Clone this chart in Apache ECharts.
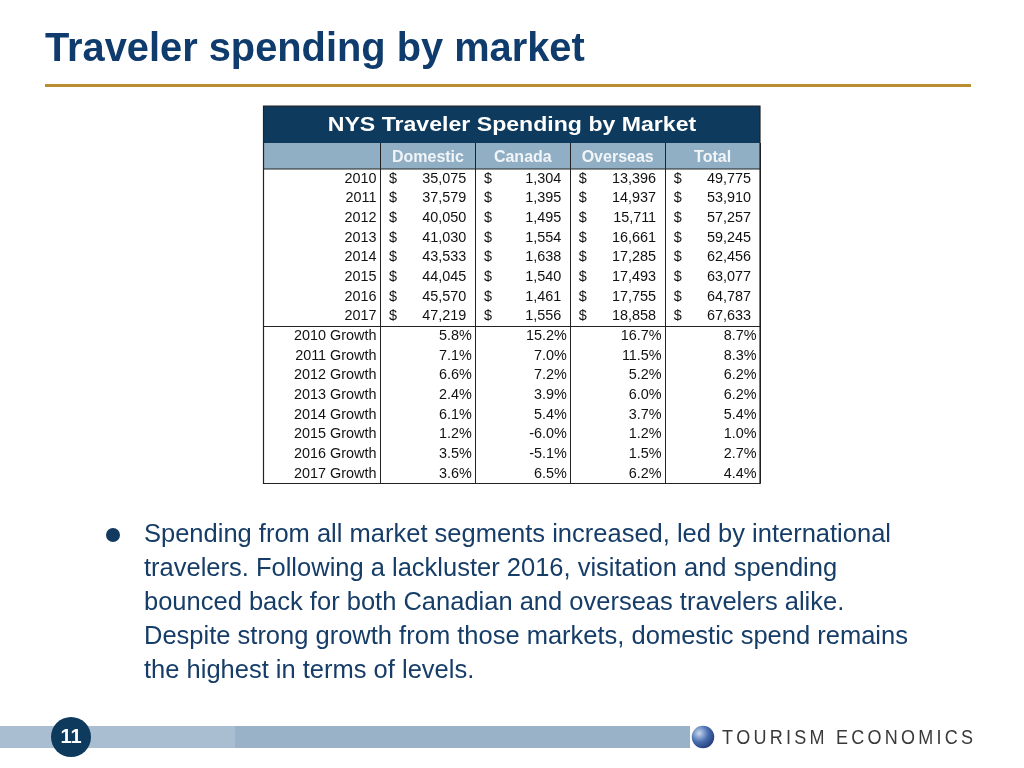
<!DOCTYPE html>
<html>
<head>
<meta charset="utf-8">
<title>Traveler spending by market</title>
<script src="https://cdn.jsdelivr.net/npm/echarts@6/dist/echarts.min.js"></script>
<style>
  html, body { margin: 0; padding: 0; background: #fff; }
  #chart { width: 1024px; height: 768px; }
</style>
</head>
<body>
<div id="chart"></div>
<script>
// table data
const columns = ['Domestic', 'Canada', 'Overseas', 'Total']
const years = ['2010', '2011', '2012', '2013', '2014', '2015', '2016', '2017']
const growthLabels = years.map((y) => y + ' Growth')
const rowLabels = years.concat(growthLabels)

const domestic = [35075, 37579, 40050, 41030, 43533, 44045, 45570, 47219]
const canada = [1304, 1395, 1495, 1554, 1638, 1540, 1461, 1556]
const overseas = [13396, 14937, 15711, 16661, 17285, 17493, 17755, 18858]
const total = [49775, 53910, 57257, 59245, 62456, 63077, 64787, 67633]

const domesticGrowth = [5.8, 7.1, 6.6, 2.4, 6.1, 1.2, 3.5, 3.6]
const canadaGrowth = [15.2, 7.0, 7.2, 3.9, 5.4, -6.0, -5.1, 6.5]
const overseasGrowth = [16.7, 11.5, 5.2, 6.0, 3.7, 1.2, 1.5, 6.2]
const totalGrowth = [8.7, 8.3, 6.2, 6.2, 5.4, 1.0, 2.7, 4.4]

const bulletLines = [
  'Spending from all market segments increased, led by international',
  'travelers. Following a lackluster 2016, visitation and spending',
  'bounced back for both Canadian and overseas travelers alike.',
  'Despite strong growth from those markets, domestic spend remains',
  'the highest in terms of levels.'
]

const FONT = '"Liberation Sans", Arial, Helvetica, sans-serif'
const NAVY = '#0f3c6c'

const spendData = []
const growthData = []
;[domestic, canada, overseas, total].forEach((arr, c) => {
  arr.forEach((v, i) => spendData.push([c, i, v]))
})
;[domesticGrowth, canadaGrowth, overseasGrowth, totalGrowth].forEach((arr, c) => {
  arr.forEach((v, i) => growthData.push([c, years.length + i, v]))
})

const cellFont = '14.4px ' + FONT

function cellText(x, y, text, align) {
  return {
    type: 'text',
    style: {
      x, y, text,
      font: cellFont,
      fill: '#111',
      align, textAlign: align,
      verticalAlign: 'middle', textVerticalAlign: 'middle'
    }
  }
}

function renderSpend(params, api) {
  const c = api.coord([api.value(0), api.value(1)])
  const w = api.size([1, 0])[0]
  const left = c[0] - w / 2
  const right = c[0] + w / 2
  return {
    type: 'group',
    children: [
      cellText(left + 8.5, c[1], '$', 'left'),
      cellText(right - 9, c[1], api.value(2).toLocaleString('en-US'), 'right')
    ]
  }
}

function renderGrowth(params, api) {
  const c = api.coord([api.value(0), api.value(1)])
  const w = api.size([1, 0])[0]
  return cellText(c[0] + w / 2 - 3.5, c[1], api.value(2).toFixed(1) + '%', 'right')
}

const chart = echarts.init(document.getElementById('chart'))

const graphics = [
  // slide title + rule
  {
    type: 'text', x: 45, y: 50,
    style: { text: 'Traveler spending by market', font: 'bold 39.8px ' + FONT, fill: NAVY,
      align: 'left', textAlign: 'left', verticalAlign: 'middle', textVerticalAlign: 'middle' }
  },
  { type: 'rect', shape: { x: 45, y: 84, width: 926, height: 3 }, style: { fill: '#b88e30' } },
  // table header bands
  { type: 'rect', shape: { x: 264, y: 106, width: 496, height: 37 }, style: { fill: '#0e3a5e' } },
  { type: 'rect', shape: { x: 264, y: 143, width: 496, height: 26 }, style: { fill: '#90afc5' }, z: -1 },
  {
    type: 'text', x: 512, y: 125, scaleX: 1.1,
    style: { text: 'NYS Traveler Spending by Market', font: 'bold 21px ' + FONT, fill: '#fff',
      align: 'center', textAlign: 'center', verticalAlign: 'middle', textVerticalAlign: 'middle' }
  },
  // table frame
  { type: 'rect', shape: { x: 263.5, y: 106, width: 496.5, height: 377.5 }, style: { fill: null, stroke: '#222', lineWidth: 1.2 }, z: 10 },
  { type: 'line', shape: { x1: 264, y1: 169, x2: 760, y2: 169 }, style: { stroke: '#222', lineWidth: 1 }, z: 10 },
  { type: 'line', shape: { x1: 264, y1: 326.5, x2: 760, y2: 326.5 }, style: { stroke: '#222', lineWidth: 1.2 }, z: 10 },
  // bullet
  { type: 'circle', shape: { cx: 113, cy: 535, r: 7 }, style: { fill: '#123a60' } },
  // footer
  { type: 'rect', shape: { x: 0, y: 726, width: 690, height: 22 }, style: { fill: '#9ab2c7' } },
  { type: 'rect', shape: { x: 0, y: 726, width: 235, height: 22 }, style: { fill: '#a9bed0' } },
  { type: 'circle', shape: { cx: 71, cy: 737, r: 20 }, style: { fill: '#0e3a5e' } },
  {
    type: 'text', x: 71, y: 737,
    style: { text: '11', font: 'bold 20px ' + FONT, fill: '#fff',
      align: 'center', textAlign: 'center', verticalAlign: 'middle', textVerticalAlign: 'middle' }
  },
  {
    type: 'circle', shape: { cx: 703, cy: 737, r: 12 },
    style: {
      fill: new echarts.graphic.RadialGradient(0.35, 0.35, 0.7, [
        { offset: 0, color: '#c9d8ee' },
        { offset: 0.5, color: '#4a6fb0' },
        { offset: 1, color: '#1c3470' }
      ]),
      stroke: '#fff', lineWidth: 1.5
    }
  }
]

bulletLines.forEach((line, i) => {
  graphics.push({
    type: 'text', x: 144, y: 535 + i * 34,
    style: { text: line, font: '25.5px ' + FONT, fill: '#163d68',
      align: 'left', textAlign: 'left', verticalAlign: 'middle', textVerticalAlign: 'middle' }
  })
})

// logo wordmark, spread evenly between x 722 and 975
const logoText = 'TOURISM ECONOMICS'
const logoFont = '20px ' + FONT
const ctx = document.createElement('canvas').getContext('2d')
ctx.font = logoFont
const logoScale = 0.9
const widths = logoText.split('').map((ch) => ctx.measureText(ch).width * logoScale)
const gap = (251 - widths.reduce((a, b) => a + b, 0)) / (logoText.length - 1)
let lx = 722
logoText.split('').forEach((ch, i) => {
  graphics.push({
    type: 'text', x: lx, y: 738, scaleX: logoScale,
    style: { text: ch, font: logoFont, fill: '#3a3a3a',
      align: 'left', textAlign: 'left', verticalAlign: 'middle', textVerticalAlign: 'middle' }
  })
  lx += widths[i] + gap
})

chart.setOption({
  backgroundColor: '#fff',
  animation: false,
  grid: { left: 380.5, right: 264, top: 169, bottom: 284.5 },
  xAxis: {
    type: 'category',
    data: columns,
    position: 'top',
    axisLine: { show: false },
    axisTick: { show: true, length: 26, lineStyle: { color: '#222', width: 1 } },
    axisLabel: { color: '#f2f5f8', fontWeight: 'bold', fontSize: 16, fontFamily: FONT, margin: 3 },
    splitLine: { show: true, lineStyle: { color: '#222', width: 1 } }
  },
  yAxis: {
    type: 'category',
    data: rowLabels,
    inverse: true,
    axisLine: { show: false },
    axisTick: { show: false },
    axisLabel: { color: '#111', fontSize: 14.4, fontFamily: FONT, margin: 4, interval: 0 },
    splitLine: { show: false }
  },
  graphic: graphics,
  series: [
    { name: 'Spending', type: 'custom', renderItem: renderSpend, data: spendData, silent: true },
    { name: 'Growth', type: 'custom', renderItem: renderGrowth, data: growthData, silent: true }
  ]
})
</script>
</body>
</html>
